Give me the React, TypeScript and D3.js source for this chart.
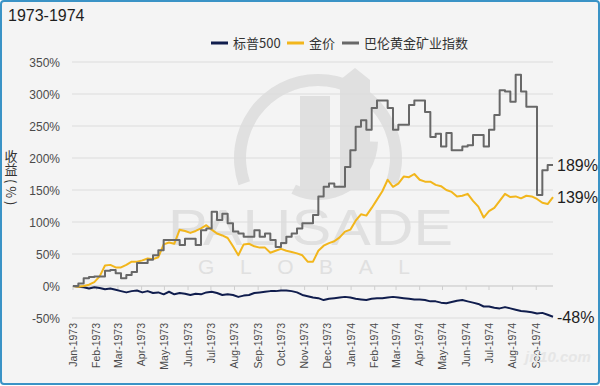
import React, { useEffect, useRef } from 'react';
import * as d3 from 'd3';

// weekly observations, first week = 1 Jan 1973
const startDate = new Date(1973, 0, 1);
const endDate = new Date(1974, 8, 23);

const sp500 = [
  0, -1, -2, -4, -2, -3, -5, -4, -6, -8, -10, -8, -7, -10, -8, -11, -10, -13, -9, -13,
  -11, -12, -14, -12, -13, -10, -9, -11, -14, -13, -14, -17, -15, -14, -11, -10, -9, -8, -8, -7,
  -7, -8, -10, -14, -16, -18, -19, -22, -20, -19, -18, -17, -18, -20, -21, -22, -20, -19, -19, -18,
  -17, -18, -19, -20, -21, -21, -22, -24, -24, -26, -27, -25, -23, -22, -24, -26, -28, -32, -32, -34,
  -35, -33, -35, -37, -39, -40, -41, -43, -42, -45, -48,
];

const gold = [
  0, -1, 0, 2, 6, 15, 32, 33, 29, 29, 33, 38, 38, 40, 43, 42, 45, 65, 68, 66,
  88, 86, 83, 86, 90, 95, 88, 82, 79, 75, 62, 48, 65, 66, 62, 60, 60, 52, 55, 58,
  55, 53, 51, 48, 38, 38, 55, 63, 67, 70, 76, 85, 88, 102, 112, 110, 122, 135, 148, 166,
  155, 160, 171, 170, 175, 166, 163, 163, 158, 156, 150, 147, 140, 141, 144, 133, 124, 107, 117, 122,
  133, 144, 139, 140, 137, 141, 140, 136, 130, 128, 139,
];

const miners = [
  0, 4, 12, 14, 15, 15, 24, 25, 20, 12, 17, 22, 36, 36, 41, 48, 56, 72, 72, 72,
  64, 74, 74, 64, 87, 90, 116, 103, 113, 98, 85, 82, 77, 77, 87, 77, 82, 72, 61, 67,
  77, 82, 90, 98, 98, 111, 140, 155, 160, 155, 155, 186, 212, 249, 259, 244, 278, 290, 290, 278,
  244, 252, 252, 283, 290, 290, 272, 233, 238, 218, 239, 212, 212, 218, 220, 236, 236, 218, 244, 267,
  306, 304, 288, 330, 304, 280, 280, 142, 181, 189, 189,
];

const yTicks = [-50, 0, 50, 100, 150, 200, 250, 300, 350];

const seriesNames = ['标普500', '金价', '巴伦黄金矿业指数'];
const seriesColors = ['#101d4d', '#f2b61c', '#686868'];
const endLabels = ['-48%', '139%', '189%'];

const W = 600;
const H = 386;
const latin = '"Liberation Sans", Arial, Helvetica, sans-serif';
const cjk = '"Noto Sans CJK SC", "Liberation Sans", sans-serif';

const App = () => {
  const ref = useRef(null);

  useEffect(() => {
    const svg = d3.select(ref.current);
    svg.selectAll('*').remove();

    const x = d3.scaleTime().domain([startDate, endDate]).range([73, 553]);
    const y = d3.scaleLinear().domain([-50, 350]).range([318, 62]);
    const dates = sp500.map((_, i) => d3.timeDay.offset(startDate, i * 7));

    // background + frame
    svg.append('rect')
      .attr('x', 1).attr('y', 1).attr('width', W - 2).attr('height', H - 3)
      .attr('rx', 3)
      .attr('fill', '#f4f4f4')
      .attr('stroke', '#3a93c6')
      .attr('stroke-width', 2);

    svg.append('text')
      .attr('x', 8).attr('y', 21)
      .attr('font-family', latin).attr('font-size', 16).attr('fill', '#1e1e1e')
      .text('1973-1974');

    // legend
    const legendX = [211, 287, 342];
    seriesNames.forEach((name, i) => {
      svg.append('line')
        .attr('x1', legendX[i]).attr('x2', legendX[i] + 17)
        .attr('y1', 43).attr('y2', 43)
        .attr('stroke', seriesColors[i]).attr('stroke-width', 3);
      svg.append('text')
        .attr('x', legendX[i] + 22).attr('y', 47.5)
        .attr('font-family', cjk).attr('font-size', 13).attr('fill', '#333')
        .text(name);
    });

    // gridlines
    svg.append('g').selectAll('line')
      .data(yTicks)
      .enter()
      .append('line')
      .attr('x1', 72).attr('x2', 553)
      .attr('y1', d => y(d)).attr('y2', d => y(d))
      .attr('stroke', '#dcdcdc').attr('stroke-width', 1);

    svg.append('g').selectAll('text')
      .data(yTicks)
      .enter()
      .append('text')
      .attr('x', 60).attr('y', d => y(d) + 4.5)
      .attr('text-anchor', 'end')
      .attr('font-family', latin).attr('font-size', 12).attr('fill', '#4a4a4a')
      .text(d => `${d}%`);

    // y axis title, vertical writing
    svg.append('text')
      .attr('x', 11).attr('y', 150)
      .style('writing-mode', 'vertical-rl')
      .attr('font-family', cjk).attr('font-size', 13).attr('fill', '#333')
      .text('收益 ( % )');

    // watermark
    const wm = svg.append('g').attr('fill', '#dedede').attr('opacity', 0.9);
    wm.append('path')
      .attr('d', d3.arc()({ innerRadius: 72, outerRadius: 84, startAngle: -1.9, endAngle: 1.9 }))
      .attr('transform', 'translate(318,158)');
    wm.append('path')
      .attr('d', d3.arc()({ innerRadius: 50, outerRadius: 60, startAngle: 1.6, endAngle: 3.6 }))
      .attr('transform', 'translate(318,140)');
    wm.append('rect').attr('x', 300).attr('y', 96).attr('width', 30).attr('height', 95);
    wm.append('path').attr('d', 'M340,190 L340,80 L355,68 L370,80 L370,190 Z');
    wm.append('text')
      .attr('x', 168).attr('y', 245)
      .attr('font-family', latin).attr('font-size', 50)
      .attr('textLength', 285).attr('lengthAdjust', 'spacingAndGlyphs')
      .text('PALISADE');
    wm.append('text')
      .attr('x', 198).attr('y', 274)
      .attr('font-family', latin).attr('font-size', 21)
      .attr('textLength', 212).attr('lengthAdjust', 'spacing')
      .text('GLOBAL');

    // x axis line at 0% with month ticks
    const months = d3.timeMonth.range(startDate, new Date(1974, 9, 1));
    svg.append('line')
      .attr('x1', 72).attr('x2', 553)
      .attr('y1', y(0)).attr('y2', y(0))
      .attr('stroke', '#cfcfcf');
    svg.append('g').selectAll('line')
      .data(months)
      .enter()
      .append('line')
      .attr('x1', d => x(d)).attr('x2', d => x(d))
      .attr('y1', y(0)).attr('y2', y(0) + 4)
      .attr('stroke', '#cfcfcf');

    const fmt = d3.timeFormat('%b-%Y');
    svg.append('g').selectAll('text')
      .data(months)
      .enter()
      .append('text')
      .attr('transform', d => `translate(${x(d)},323) rotate(-90)`)
      .attr('dy', '0.35em')
      .attr('text-anchor', 'end')
      .attr('font-family', latin).attr('font-size', 10.5).attr('fill', '#4a4a4a')
      .text(d => fmt(d));

    // series
    const all = [sp500, gold, miners];
    all.forEach((values, i) => {
      const line = d3.line()
        .x((_, j) => x(dates[j]))
        .y(d => y(d))
        .curve(i === 2 ? d3.curveStepAfter : d3.curveLinear);
      svg.append('path')
        .attr('d', line(values))
        .attr('fill', 'none')
        .attr('stroke', seriesColors[i])
        .attr('stroke-width', 2)
        .attr('stroke-linejoin', 'round');
    });

    // end labels
    all.forEach((values, i) => {
      const v = values[values.length - 1];
      svg.append('text')
        .attr('x', 557).attr('y', y(v) + 6)
        .attr('font-family', latin).attr('font-size', 16).attr('fill', '#1e1e1e')
        .text(endLabels[i]);
    });

    // small site watermark
    svg.append('text')
      .attr('x', 525).attr('y', 362)
      .attr('font-family', latin).attr('font-size', 15).attr('font-style', 'italic')
      .attr('font-weight', 'bold')
      .attr('fill', '#e6e6e6')
      .text('jrj10.com');
  }, []);

  return (
    <svg ref={ref} width={W} height={H}
      style={{ position: 'absolute', left: 0, top: 0, display: 'block' }}></svg>
  );
};

export default App;
